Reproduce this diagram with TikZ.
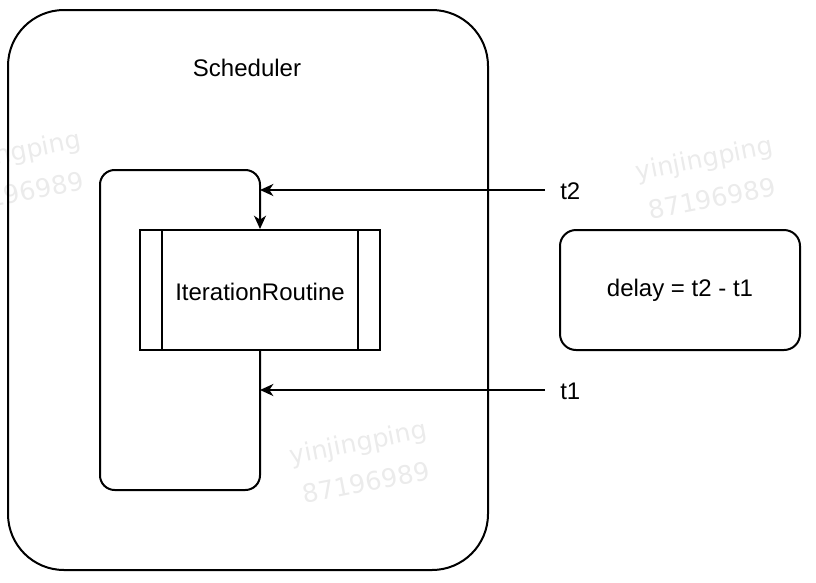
\documentclass[tikz,border=0pt]{standalone}
\usepackage{fontspec}
\setmainfont{Liberation Sans}
\newfontfamily\wmfont{DejaVu Sans}
\usetikzlibrary{arrows.meta,calc}
\definecolor{wm}{HTML}{EBEBEB}
\begin{document}
\begin{tikzpicture}[x=0.75pt,y=-0.75pt,
  ln/.style={line width=1.5pt},
  arr/.style={ln, -{Stealth[length=10pt,width=9pt,inset=3pt]}},
  lbl/.style={font=\fontsize{18}{22}\selectfont, inner sep=0pt},
  wmark/.style={font=\wmfont\fontsize{19}{31}\selectfont, text=wm, rotate=11, align=center, inner sep=0pt}]
\useasboundingbox (0,0) rectangle (816,582);
% watermarks
\node[wmark] (w1) at (16,172) {yinjingping\\87196989};
\node[wmark] (w2) at (708,178) {yinjingping\\87196989};
\node[wmark] (w3) at (362,462) {yinjingping\\87196989};
% scheduler
\draw[ln, rounded corners=42pt] (8,10) rectangle (488,570);
\node[lbl] (sched) at (247,68) {Scheduler};
% process
\node[ln, draw, minimum width=180pt, minimum height=90pt, inner sep=0pt] (proc) at (260,290) {};
\node[lbl] (proctext) at (260,292) {IterationRoutine};
\draw[ln] ($(proc.north west)+(17.25pt,0)$) -- ($(proc.south west)+(17.25pt,0)$);
\draw[ln] ($(proc.north east)+(-17.25pt,0)$) -- ($(proc.south east)+(-17.25pt,0)$);
% loop
\coordinate (lb) at (260,490);
\coordinate (ll) at (100,490);
\coordinate (lt) at (100,170);
\coordinate (lr) at (260,170);
\draw[arr, rounded corners=11pt] (proc.south) -- (lb) -- (ll) -- (lt) -- (lr) -- (proc.north);
% inputs
\node[lbl, anchor=west] (t2) at (560,191) {t2};
\node[lbl, anchor=west] (t1) at (560,391) {t1};
\coordinate (t2s) at (545,190);
\coordinate (t1s) at (545,390);
\coordinate (t2e) at (260,190);
\coordinate (t1e) at (260,390);
\draw[arr] (t2s) -- (t2e);
\draw[arr] (t1s) -- (t1e);
% delay
\node[ln, draw, rounded corners=12pt, minimum width=180pt, minimum height=90pt, lbl] (delay) at (680,290) {delay = t2 - t1};
\end{tikzpicture}
\end{document}
